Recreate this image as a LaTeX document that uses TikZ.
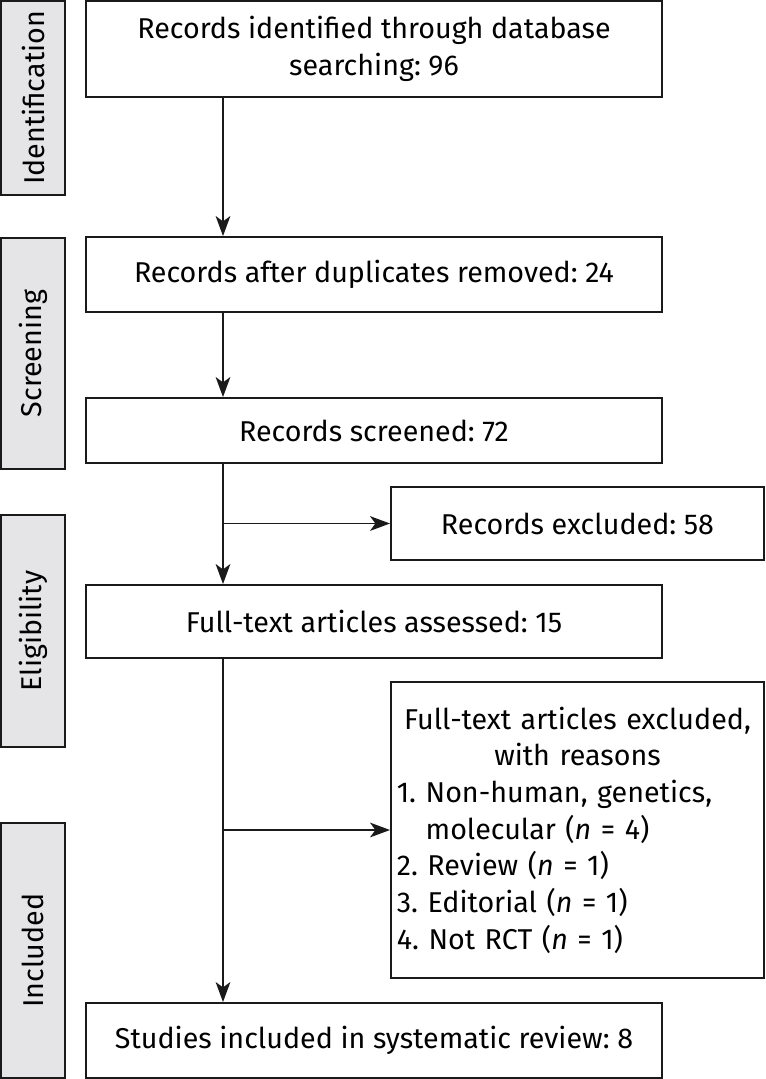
\documentclass[tikz,border=0pt]{standalone}
\usepackage{fontspec}
\setmainfont{Fira Sans}
\usetikzlibrary{arrows.meta}
\definecolor{stagegray}{HTML}{E5E5E7}
\definecolor{inkline}{HTML}{1A1A1A}
\frenchspacing
\newcommand{\reasonline}[1]{\makebox[\linewidth][l]{\hspace*{3pt}#1}}

\tikzset{
  box/.style={draw=inkline, line width=1.4pt, align=center, inner sep=2pt,
    font=\fontsize{21.5}{27.5}\selectfont},
  mainbox/.style={box, minimum width=432pt},
  sidebox/.style={box, minimum width=279.75pt},
  stage/.style={box, fill=stagegray, rotate=90, minimum height=48pt},
  flow/.style={draw=inkline, line width=1.4pt, -{Stealth[length=15pt, width=11pt, inset=4pt]}}
}

\begin{document}
\begin{tikzpicture}[x=0.75pt, y=-0.75pt]

\useasboundingbox (0,0) rectangle (765,1079);

%position of the vertical flow line
\coordinate (spine) at (223,0);

% stage labels on the left
\node[stage, minimum width=145.5pt]  (sident) at (33,98)    {Identification};
\node[stage, minimum width=173.25pt] (sscr)   at (33,353.5) {Screening};
\node[stage, minimum width=174pt]    (selig)  at (33,631)   {Eligibility};
\node[stage, minimum width=191.25pt] (sincl)  at (33,950.5) {Included};

% main column
\node[mainbox, minimum height=72pt]    (ident)  at (374,49)     {Records identified through database\\searching: 96};
\node[mainbox, minimum height=56.25pt] (dup)    at (374,274.5)  {Records after duplicates removed: 24};
\node[mainbox, minimum height=48.75pt] (scr)    at (374,430.5)  {Records screened: 72};
\node[mainbox, minimum height=54.75pt] (full)   at (374,621.5)  {Full-text articles assessed: 15};
\node[mainbox, minimum height=56.25pt] (stud)   at (374,1040.5) {Studies included in systematic review: 8};

% exclusions on the right
\node[sidebox, minimum height=222pt, text width=277pt, inner sep=0pt] (ftex) at (577.5,830)
  {Full-text articles excluded,\\
   with reasons\\
   \reasonline{1. Non-human, genetics,}\\
   \reasonline{\phantom{1. }molecular (\textit{n} = 4)}\\
   \reasonline{2. Review (\textit{n} = 1)}\\
   \reasonline{3. Editorial (\textit{n} = 1)}\\
   \reasonline{4. Not RCT (\textit{n} = 1)}};
\node[sidebox, minimum height=54.75pt] (excl) at (577.5,523.5) {Records excluded: 58};

% arrows
\draw[flow] (ident.south -| spine) -- (dup.north -| spine);
\draw[flow] (dup.south -| spine) -- (scr.north -| spine);
\draw[flow] (scr.south -| spine) -- (full.north -| spine);
\draw[flow] (spine |- excl.west) -- (excl.west);
\draw[flow] (full.south -| spine) -- (stud.north -| spine);
\draw[flow] (spine |- ftex.west) -- (ftex.west);

\end{tikzpicture}
\end{document}
